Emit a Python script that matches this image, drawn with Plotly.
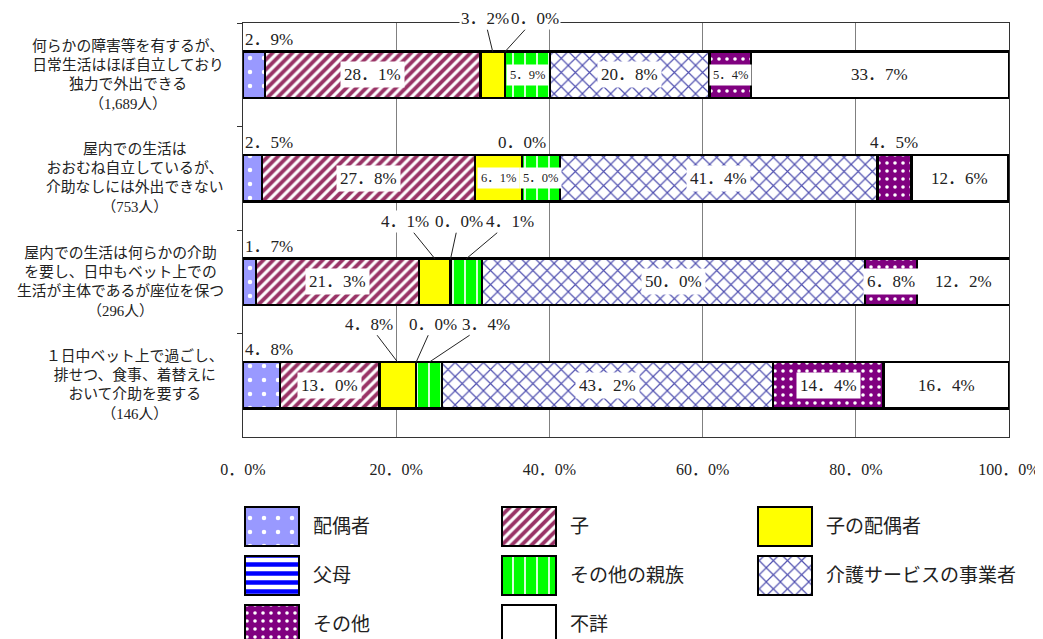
import plotly.graph_objects as go

# ---------------- data ----------------
categories = [
    "何らかの障害等を有するが、<br>日常生活はほぼ自立しており<br>独力で外出できる<br>（1,689人）",
    "屋内での生活は<br>おおむね自立しているが、<br>介助なしには外出できない<br>（753人）",
    "屋内での生活は何らかの介助<br>を要し、日中もベット上での<br>生活が主体であるが座位を保つ<br>（296人）",
    "１日中ベット上で過ごし、<br>排せつ、食事、着替えに<br>おいて介助を要する<br>（146人）",
]
series_names = ["配偶者", "子", "子の配偶者", "父母", "その他の親族",
                "介護サービスの事業者", "その他", "不詳"]
spouse = [2.9, 2.5, 1.7, 4.8]
child = [28.1, 27.8, 21.3, 13.0]
child_spouse = [3.2, 6.1, 4.1, 4.8]
parents = [0.0, 0.0, 0.0, 0.0]
other_relatives = [5.9, 5.0, 4.1, 3.4]
care_service = [20.8, 41.4, 50.0, 43.2]
other = [5.4, 4.5, 6.8, 14.4]
unknown = [33.7, 12.6, 12.2, 16.4]
series_values = [spouse, child, child_spouse, parents, other_relatives,
                 care_service, other, unknown]
x_tick_vals = [0, 20, 40, 60, 80, 100]
x_tick_text = ["0．0%", "20．0%", "40．0%", "60．0%", "80．0%", "100．0%"]

# ---------------- styles ----------------
FONT = "Liberation Serif, Noto Sans CJK JP, serif"
styles = [
    dict(bg="#9999FF", fg="#FFFFFF", shape=".", size=14, solidity=0.08),
    dict(bg="#FFFFFF", fg="#993366", shape="/", size=7, solidity=0.55),
    dict(bg="#FFFF00", fg="#FFFF00", shape="", size=8, solidity=0.3),
    dict(bg="#FFFFFF", fg="#0000FF", shape="-", size=9, solidity=0.5),
    dict(bg="#00FF00", fg="#FFFFFF", shape="|", size=12, solidity=0.14),
    dict(bg="#FFFFFF", fg="#5050B0", shape="x", size=10, solidity=0.22),
    dict(bg="#800080", fg="#FFFFFF", shape=".", size=8, solidity=0.16),
    dict(bg="#FFFFFF", fg="#FFFFFF", shape="", size=8, solidity=0.3),
]
# label placement per row/series
label_mode = [
    ["left", "big", "lead", "lead", "small", "big", "small", "big"],
    ["left", "big", "small", "above", "small", "big", "above", "big"],
    ["left", "big", "lead", "lead", "lead", "big", "big", "big"],
    ["left", "big", "lead", "lead", "lead", "big", "big", "big"],
]
lead_offsets = {
    (0, 2): (-8, -33), (0, 3): (30, -33),
    (2, 2): (-30, -37), (2, 3): (8, -37), (2, 4): (44, -37),
    (3, 2): (-29, -38), (3, 3): (17, -38), (3, 4): (57, -38),
}
BAR_W = 0.445
# page body has an 8px margin; figure is sized / placed to compensate
FIG_W, FIG_H = 1035, 631
PAPER_H = 616


def fmt(v):
    return f"{v:.1f}".replace(".", "．") + "%"


def marker_for(st, lw):
    m = dict(color=st["bg"], line=dict(color="black", width=lw))
    if st["shape"]:
        m["pattern"] = dict(shape=st["shape"], fgcolor=st["fg"], bgcolor=st["bg"],
                            size=st["size"], solidity=st["solidity"], fillmode="replace")
    return m


fig = go.Figure()

# main stacked bars
for k, (name, vals) in enumerate(zip(series_names, series_values)):
    fig.add_trace(go.Bar(
        y=categories, x=vals, orientation="h", name=name, width=BAR_W,
        marker=marker_for(styles[k], 2.5), showlegend=False, hoverinfo="skip",
    ))

annotations = []
# value labels
for i in range(len(categories)):
    start = 0.0
    for k, vals in enumerate(series_values):
        v = vals[i]
        mid = start + v / 2
        mode = label_mode[i][k]
        txt = fmt(v)
        top = i - BAR_W / 2
        if mode == "big":
            annotations.append(dict(x=mid, y=i, xref="x", yref="y", text=txt, showarrow=False,
                                    font=dict(family=FONT, size=17, color="#222"),
                                    bgcolor="white", borderpad=3))
        elif mode == "small":
            annotations.append(dict(x=mid, y=i, xref="x", yref="y", text=txt, showarrow=False,
                                    font=dict(family=FONT, size=12.5, color="#222"),
                                    bgcolor="white", borderpad=3))
        elif mode == "left":
            annotations.append(dict(x=start, y=top, xref="x", yref="y", text=txt, showarrow=False,
                                    xanchor="left", yanchor="bottom", yshift=1,
                                    font=dict(family=FONT, size=17, color="#222")))
        elif mode == "above":
            annotations.append(dict(x=mid, y=top, xref="x", yref="y", text=txt, showarrow=False,
                                    xanchor="center", yanchor="bottom", yshift=1,
                                    font=dict(family=FONT, size=17, color="#222")))
        elif mode == "lead":
            ax, ay = lead_offsets[(i, k)]
            annotations.append(dict(x=mid, y=top, xref="x", yref="y", text=txt, showarrow=True,
                                    arrowhead=0, arrowwidth=1, arrowcolor="#222",
                                    ax=ax, ay=ay, standoff=0,
                                    font=dict(family=FONT, size=17, color="#222"),
                                    bgcolor="white", borderpad=1))
        start += v

# category labels
for i, c in enumerate(categories):
    annotations.append(dict(x=-0.022, y=i, xref="paper", yref="y", text=c, showarrow=False,
                            xanchor="right", align="center",
                            font=dict(family=FONT, size=14.8, color="#222")))

# legend drawn as a small subplot of swatches
COL_STEP = 256.5
SW_X0 = 2
SW_W = 54
for k, name in enumerate(series_names):
    col, row = k % 3, k // 3
    fig.add_trace(go.Bar(
        y=[row], x=[SW_W], base=[SW_X0 + col * COL_STEP], orientation="h", width=0.796,
        marker=marker_for(styles[k], 2), xaxis="x2", yaxis="y2",
        showlegend=False, hoverinfo="skip",
    ))
    annotations.append(dict(x=SW_X0 + col * COL_STEP + SW_W + 12, y=row, xref="x2", yref="y2",
                            text=name, showarrow=False, xanchor="left",
                            font=dict(family=FONT, size=19, color="#222")))

fig.update_layout(
    width=FIG_W, height=FIG_H,
    margin=dict(l=235, r=34, t=15, b=0),
    plot_bgcolor="white", paper_bgcolor="white",
    barmode="stack", showlegend=False,
    font=dict(family=FONT, color="#222"),
    xaxis=dict(range=[0, 100], tickvals=x_tick_vals, ticktext=x_tick_text,
               showgrid=True, gridcolor="#808080", gridwidth=1, zeroline=False,
               showline=True, linecolor="#333", linewidth=1, mirror=True,
               ticks="", ticklabelstandoff=18,
               tickfont=dict(family=FONT, size=16, color="#222"),
               domain=[0, 1], anchor="y"),
    yaxis=dict(range=[3.5, -0.5], type="category", categoryorder="array",
               categoryarray=categories, showticklabels=False,
               ticks="outside", tickson="boundaries", ticklen=5, tickcolor="#333",
               showline=True, linecolor="#333", linewidth=1, mirror=True,
               showgrid=False, zeroline=False,
               domain=[202 / PAPER_H, 1]),
    xaxis2=dict(range=[0, 766], domain=[0, 1], anchor="y2", visible=False),
    yaxis2=dict(range=[2.286, -0.612], domain=[0, 142 / PAPER_H], anchor="x2", visible=False),
    annotations=annotations,
)

fig.write_html("out.html")
